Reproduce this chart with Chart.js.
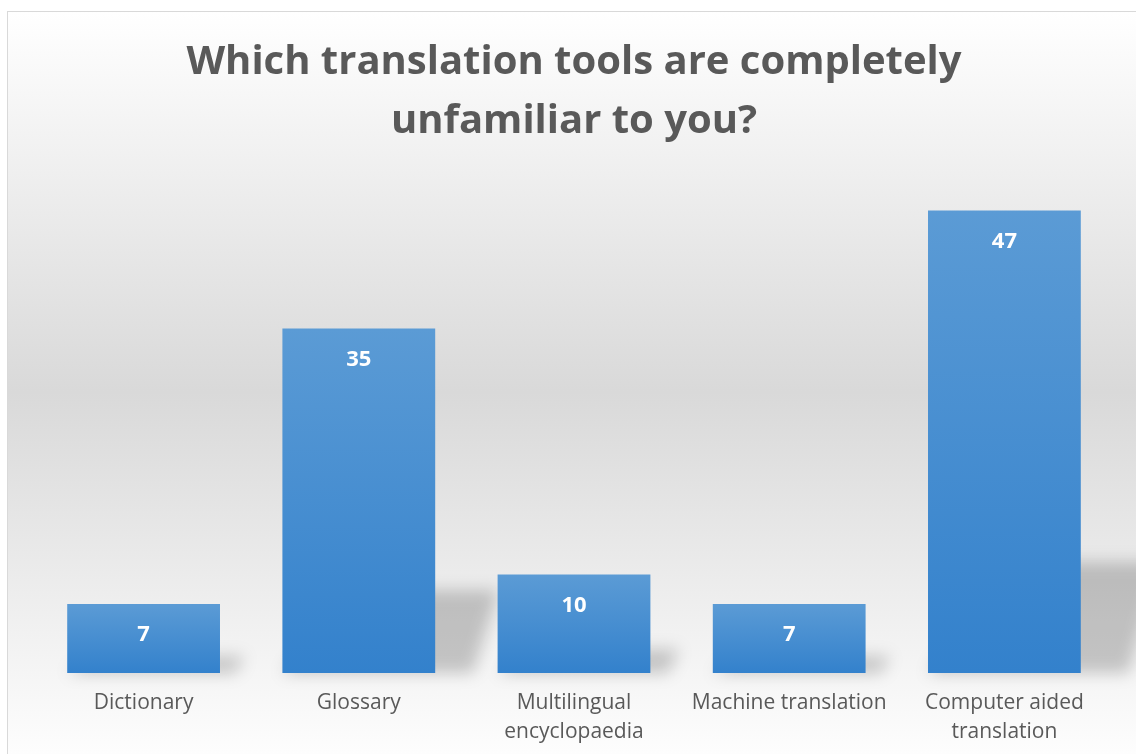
<!DOCTYPE html>
<html>
<head>
<meta charset="utf-8">
<script src="https://cdn.jsdelivr.net/npm/chart.js@4"></script>
<style>
  html, body { margin: 0; padding: 0; background: #ffffff; overflow: hidden; }
  #box {
    position: absolute; left: 7px; top: 11px;
    width: 1134px; height: 760px;
    border-top: 1px solid #d9d9d9; border-left: 1px solid #d9d9d9;
    background: linear-gradient(#ffffff 0%, #d9d9d9 50%, #ffffff 100%);
  }
</style>
</head>
<body>
<div id="box"><canvas id="grafico"></canvas></div>
<script>
// categorias (rótulos em várias linhas)
const categories = [
    ["Dictionary"],
    ["Glossary"],
    ["Multilingual", "encyclopaedia"],
    ["Machine translation"],
    ["Computer aided", "translation"]
];

// respostas
const values = [7, 35, 10, 7, 47];

const yMin = 0;
const yMax = 50;

// gradiente de cada barra, de cima para baixo
function barGradient(context) {
    const chart = context.chart;
    const y = chart.scales.y;
    if (!chart.chartArea || !y) return "#4a90d2";
    const top = y.getPixelForValue(context.raw);
    const base = y.getPixelForValue(0);
    const g = chart.ctx.createLinearGradient(0, top, 0, base);
    g.addColorStop(0, "#5b9bd5");
    g.addColorStop(1, "#3381cc");
    return g;
}

// sombra em perspectiva atrás das barras
const sombraPlugin = {
    id: "sombra",
    beforeDatasetsDraw(chart) {
        const ctx = chart.ctx;
        const meta = chart.getDatasetMeta(0);
        ctx.save();
        ctx.filter = "blur(8px)";
        ctx.fillStyle = "rgba(0,0,0,0.2)";
        meta.data.forEach(function (bar) {
            const h = bar.base - bar.y;
            const left = bar.x - bar.width / 2;
            const right = bar.x + bar.width / 2;
            const dx = 15 + h * 0.14;
            const sh = h * 0.24;
            ctx.beginPath();
            ctx.moveTo(left, bar.base);
            ctx.lineTo(left + dx, bar.base - sh);
            ctx.lineTo(right + dx, bar.base - sh);
            ctx.lineTo(right + dx * 0.6, bar.base);
            ctx.closePath();
            ctx.fill();
        });
        ctx.restore();
    }
};

// valores dentro das barras
const valoresPlugin = {
    id: "valores",
    afterDatasetsDraw(chart) {
        const ctx = chart.ctx;
        const meta = chart.getDatasetMeta(0);
        ctx.save();
        ctx.fillStyle = "#ffffff";
        ctx.font = "bold 22px 'Open Sans'";
        ctx.textAlign = "center";
        ctx.textBaseline = "middle";
        meta.data.forEach(function (bar, i) {
            ctx.fillText(String(values[i]), bar.x, bar.y + 31);
        });
        ctx.restore();
    }
};

const ctx = document.getElementById("grafico").getContext("2d");

const grafico = new Chart(ctx, {
    type: "bar",
    data: {
        labels: categories,
        datasets: [{
            data: values,
            backgroundColor: barGradient,
            borderWidth: 0,
            categoryPercentage: 1,
            barPercentage: 0.71
        }]
    },
    options: {
        responsive: true,
        maintainAspectRatio: false,
        animation: false,
        layout: {
            padding: { left: 28, right: 30, top: 0, bottom: 9 }
        },
        plugins: {
            legend: { display: false },
            tooltip: { enabled: false },
            title: {
                display: true,
                text: ["Which translation tools are completely", "unfamiliar to you?"],
                color: "#595959",
                font: { family: "'Open Sans'", size: 40, weight: "bold", lineHeight: 59 / 40 },
                padding: { top: 21, bottom: 30 }
            }
        },
        scales: {
            x: {
                grid: { display: false, drawTicks: false },
                border: { display: false },
                ticks: {
                    color: "#595959",
                    font: { family: "'Open Sans'", size: 21, lineHeight: 29 / 21 },
                    padding: 16,
                    maxRotation: 0,
                    autoSkip: false
                }
            },
            y: {
                display: false,
                min: yMin,
                max: yMax
            }
        }
    },
    plugins: [sombraPlugin, valoresPlugin]
});
</script>
</body>
</html>
